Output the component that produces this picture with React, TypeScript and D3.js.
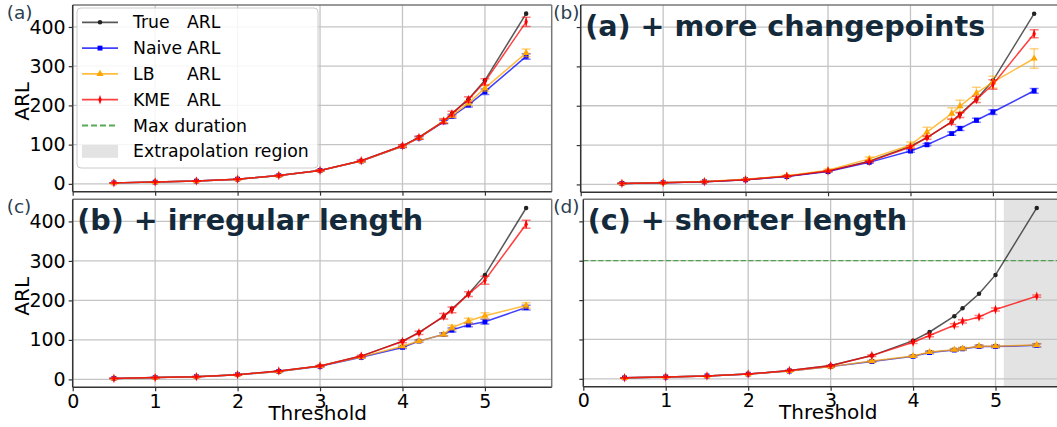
import React, { useEffect, useRef } from "react";
import * as d3 from "d3";

// thresholds shared by every panel
const thresholds = [0.5, 1, 1.5, 2, 2.5, 3, 3.5, 4, 4.2, 4.5, 4.6, 4.8, 5, 5.5];
const trueArl = [2.5, 4.5, 7, 12, 21, 34, 59, 97, 119, 159, 179, 216, 264, 434];

// (a) base
const naiveA = [2.5, 4.5, 7, 12, 21, 34, 58, 96, 117, 158, 172, 201, 235, 325];
const naiveAErr = [0.2, 0.3, 0.4, 0.6, 1, 1.5, 2, 3, 3, 4, 5, 5, 7, 7];
const lbA = [2.5, 4.5, 7, 12, 21, 34, 58, 96, 117, 160, 174, 206, 244, 334];
const lbAErr = [0.2, 0.3, 0.4, 0.6, 1, 1.5, 2, 3, 3, 5, 5, 6, 8, 10];
const kmeA = [2.5, 4.5, 7, 12, 21, 34, 59, 97, 118, 160, 179, 215, 260, 413];
const kmeAErr = [0.2, 0.3, 0.4, 0.6, 1, 1.5, 2, 3, 4, 6, 6, 7, 8, 12];

// (b) more changepoints
const naiveB = [2.5, 4.5, 7, 12, 20, 33, 56, 85, 101, 129, 142, 163, 184, 238];
const naiveBErr = [0.2, 0.3, 0.4, 0.6, 1, 1.5, 2, 3, 3, 4, 5, 5, 6, 6];
const lbB = [2.5, 4.6, 7.5, 13, 22, 36, 65, 100, 133, 180, 199, 232, 260, 320];
const lbBErr = [0.3, 0.4, 0.6, 1, 2, 3, 5, 8, 12, 15, 15, 15, 15, 25];
const kmeB = [2.5, 4.5, 7, 12, 21, 34, 58, 95, 119, 159, 176, 216, 254, 383];
const kmeBErr = [0.2, 0.3, 0.4, 0.6, 1, 1.5, 2, 3, 4, 7, 6, 8, 12, 10];

// (c) irregular length
const naiveC = [2.5, 4.5, 7, 12, 20, 33, 56, 81, 97, 114, 125, 138, 146, 182];
const naiveCErr = [0.2, 0.3, 0.4, 0.6, 1, 1.5, 2, 3, 3, 4, 5, 5, 6, 6];
const lbC = [2.5, 4.5, 7, 12, 20, 34, 57, 84, 97, 114, 131, 148, 161, 187];
const lbCErr = [0.2, 0.3, 0.4, 0.6, 1, 1.5, 2, 3, 3, 4, 6, 7, 8, 7];
const kmeC = [2.5, 4.5, 7, 12, 21, 34, 59, 96, 118, 160, 176, 216, 251, 393];
const kmeCErr = [0.2, 0.3, 0.4, 0.6, 1, 1.5, 2, 3, 4, 7, 7, 6, 10, 10];

// (d) shorter length
const naiveD = [2.5, 4.5, 7, 12, 20, 31, 44, 57, 67, 73, 76, 82, 82, 85];
const naiveDErr = [0.2, 0.3, 0.4, 0.6, 1, 1.5, 2, 2, 3, 3, 3, 3, 3, 4];
const lbD = [2.5, 4.5, 7, 12, 20, 31, 45, 58, 68, 74, 77, 83, 83, 86];
const lbDErr = [0.2, 0.3, 0.4, 0.6, 1, 1.5, 2, 2, 3, 3, 3, 3, 3, 4];
const kmeD = [2.5, 4.5, 7, 12, 21, 33, 59, 93, 110, 136, 146, 157, 176, 210];
const kmeDErr = [0.2, 0.3, 0.4, 0.6, 1, 1.5, 2, 3, 3, 4, 4, 4, 4, 3];

const maxDuration = 300;
const extrapolationStart = 5.1;
const xTicks = [0, 1, 2, 3, 4, 5];
const yTicks = [0, 100, 200, 300, 400];

const FONT = "DejaVu Sans, sans-serif";
const W = 1057;
const H = 427;

const panels = [
  { tag: "(a)", tagX: 6.7, title: "", naive: naiveA, naiveErr: naiveAErr, lb: lbA, lbErr: lbAErr, kme: kmeA, kmeErr: kmeAErr,
    left: 72.7, top: 5, bottom: 191.7, showX: false, showY: true, legend: true },
  { tag: "(b)", tagX: 553.3, title: "(a) + more changepoints", naive: naiveB, naiveErr: naiveBErr, lb: lbB, lbErr: lbBErr, kme: kmeB, kmeErr: kmeBErr,
    left: 580.7, top: 5, bottom: 192.3, showX: false, showY: false },
  { tag: "(c)", tagX: 6.7, title: "(b) + irregular length", naive: naiveC, naiveErr: naiveCErr, lb: lbC, lbErr: lbCErr, kme: kmeC, kmeErr: kmeCErr,
    left: 72.7, top: 199.3, bottom: 387.3, showX: true, showY: true },
  { tag: "(d)", tagX: 553.3, title: "(c) + shorter length", naive: naiveD, naiveErr: naiveDErr, lb: lbD, lbErr: lbDErr, kme: kmeD, kmeErr: kmeDErr,
    left: 583.3, top: 199.3, bottom: 386.7, showX: true, showY: false, limits: true },
];

const symbols = {
  dot: d3.symbol(d3.symbolCircle, 16),
  square: d3.symbol(d3.symbolSquare, 24),
  triangle: d3.symbol(d3.symbolTriangle, 22),
  diamond: d3.symbol(d3.symbolDiamond, 26),
};

export default function App() {
  const ref = useRef(null);

  useEffect(() => {
    const svg = d3.select(ref.current);
    svg.selectAll("*").remove();

    panels.forEach((p, i) => {
      const width = 479;
      const x = d3.scaleLinear().domain([0, 5.81]).range([p.left, p.left + width]);
      const y = d3.scaleLinear().domain([-20, 456]).range([p.bottom, p.top]);
      const g = svg.append("g");

      g.append("clipPath").attr("id", "clip" + i)
        .append("rect")
        .attr("x", p.left).attr("y", p.top)
        .attr("width", width).attr("height", p.bottom - p.top);

      const plot = g.append("g").attr("clip-path", `url(#clip${i})`);

      // extrapolation region (d only)
      if (p.limits) {
        plot.append("rect")
          .attr("x", x(extrapolationStart)).attr("y", p.top)
          .attr("width", x(5.81) - x(extrapolationStart))
          .attr("height", p.bottom - p.top)
          .attr("fill", "#e3e3e3");
      }

      // grid
      plot.selectAll(".gx").data(xTicks).enter().append("line")
        .attr("x1", (d) => x(d)).attr("x2", (d) => x(d))
        .attr("y1", p.top).attr("y2", p.bottom)
        .attr("stroke", "#c4c4c4").attr("stroke-width", 1.3);
      plot.selectAll(".gy").data(yTicks).enter().append("line")
        .attr("x1", p.left).attr("x2", p.left + width)
        .attr("y1", (d) => y(d)).attr("y2", (d) => y(d))
        .attr("stroke", "#c4c4c4").attr("stroke-width", 1.3);

      if (p.limits) {
        plot.append("line")
          .attr("x1", p.left).attr("x2", p.left + width)
          .attr("y1", y(maxDuration)).attr("y2", y(maxDuration))
          .attr("stroke", "#3a9a3a").attr("stroke-opacity", 0.85)
          .attr("stroke-width", 1.3).attr("stroke-dasharray", "5,2.5");
      }

      const line = d3.line().x((d) => x(d[0])).y((d) => y(d[1]));

      const series = [
        { vals: trueArl, err: null, color: "#222222", sym: "dot" },
        { vals: p.naive, err: p.naiveErr, color: "#0000ff", sym: "square" },
        { vals: p.lb, err: p.lbErr, color: "#ffa500", sym: "triangle" },
        { vals: p.kme, err: p.kmeErr, color: "#ff0000", sym: "diamond" },
      ];

      series.forEach((s) => {
        const pts = thresholds.map((t, k) => [t, s.vals[k], s.err ? s.err[k] : 0]);
        plot.append("path")
          .datum(pts)
          .attr("fill", "none")
          .attr("stroke", s.color)
          .attr("stroke-opacity", 0.75)
          .attr("stroke-width", 1.5)
          .attr("d", line);

        if (s.err) {
          const eb = plot.append("g").attr("stroke", s.color).attr("stroke-opacity", 0.5).attr("stroke-width", 1.5);
          eb.selectAll(".v").data(pts).enter().append("line")
            .attr("x1", (d) => x(d[0])).attr("x2", (d) => x(d[0]))
            .attr("y1", (d) => y(d[1] - d[2])).attr("y2", (d) => y(d[1] + d[2]));
          [-1, 1].forEach((sign) => {
            eb.selectAll(".c").data(pts).enter().append("line")
              .attr("x1", (d) => x(d[0]) - 4.5).attr("x2", (d) => x(d[0]) + 4.5)
              .attr("y1", (d) => y(d[1] + sign * d[2])).attr("y2", (d) => y(d[1] + sign * d[2]));
          });
        }

        plot.selectAll(".m").data(pts).enter().append("path")
          .attr("d", symbols[s.sym])
          .attr("transform", (d) => `translate(${x(d[0])},${y(d[1])})` + (s.sym === "diamond" ? " scale(0.6,1)" : ""))
          .attr("fill", s.color);
      });

      // spines
      g.append("line").attr("x1", p.left).attr("x2", p.left + width).attr("y1", p.top).attr("y2", p.top)
        .attr("stroke", "#777").attr("stroke-width", 1.5);
      g.append("line").attr("x1", p.left + width).attr("x2", p.left + width).attr("y1", p.top).attr("y2", p.bottom)
        .attr("stroke", "#777").attr("stroke-width", 1.5);
      g.append("line").attr("x1", p.left).attr("x2", p.left).attr("y1", p.top).attr("y2", p.bottom)
        .attr("stroke", "#333").attr("stroke-width", 1.5);
      g.append("line").attr("x1", p.left).attr("x2", p.left + width).attr("y1", p.bottom).attr("y2", p.bottom)
        .attr("stroke", "#333").attr("stroke-width", 1.5);

      // axes
      const ax = g.append("g")
        .attr("transform", `translate(0,${p.bottom})`)
        .call(d3.axisBottom(x).tickValues(xTicks).tickSizeInner(4).tickSizeOuter(0).tickPadding(3)
          .tickFormat(p.showX ? d3.format("d") : () => ""));
      const ay = g.append("g")
        .attr("transform", `translate(${p.left},0)`)
        .call(d3.axisLeft(y).tickValues(yTicks).tickSizeInner(4).tickSizeOuter(0).tickPadding(3)
          .tickFormat(p.showY ? d3.format("d") : () => ""));
      [ax, ay].forEach((a) => {
        a.select(".domain").remove();
        a.selectAll("line").attr("stroke", "#333").attr("stroke-width", 1.2);
        a.selectAll("text").attr("font-family", FONT).attr("font-size", 19).attr("fill", "#000");
      });

      // panel tag & inset title
      g.append("text")
        .attr("x", p.tagX).attr("y", p.top + 14)
        .attr("font-family", FONT).attr("font-size", 18.5).attr("fill", "#2b3e50")
        .text(p.tag);
      if (p.title) {
        g.append("text")
          .attr("x", p.left + 4.5).attr("y", p.top + 31)
          .attr("font-family", FONT).attr("font-weight", "bold").attr("font-size", 28.6).attr("fill", "#142a3b")
          .text(p.title);
      }

      if (p.showY) {
        const cy = (p.top + p.bottom) / 2 + 3;
        g.append("text")
          .attr("transform", `translate(29,${cy}) rotate(-90)`)
          .attr("text-anchor", "middle")
          .attr("font-family", FONT).attr("font-size", 20)
          .text("ARL");
      }
      if (p.showX) {
        g.append("text")
          .attr("x", p.left + 245).attr("y", p.bottom + 32.5)
          .attr("text-anchor", "middle")
          .attr("font-family", FONT).attr("font-size", 20)
          .text("Threshold");
      }

      if (p.legend) {
        const lg = g.append("g");
        const fs = 17.3;
        lg.append("rect")
          .attr("x", 77).attr("y", 8).attr("width", 241).attr("height", 160).attr("rx", 4)
          .attr("fill", "#fff").attr("fill-opacity", 0.85).attr("stroke", "#ccc");
        const entries = [
          { name: "True", color: "#222222", sym: "dot" },
          { name: "Naive", color: "#0000ff", sym: "square" },
          { name: "LB", color: "#ffa500", sym: "triangle" },
          { name: "KME", color: "#ff0000", sym: "diamond" },
        ];
        entries.forEach((e, k) => {
          const cy = 22.3 + k * 25.8;
          lg.append("line").attr("x1", 82).attr("x2", 118).attr("y1", cy).attr("y2", cy)
            .attr("stroke", e.color).attr("stroke-opacity", 0.75).attr("stroke-width", 1.8);
          lg.append("path").attr("d", symbols[e.sym])
            .attr("transform", `translate(100,${cy})` + (e.sym === "diamond" ? " scale(0.6,1)" : ""))
            .attr("fill", e.color);
          const t = lg.append("text").attr("y", cy + 6).attr("font-family", FONT).attr("font-size", fs);
          t.append("tspan").attr("x", 133).text(e.name);
          t.append("tspan").attr("x", 187).text("ARL");
        });
        const cy5 = 22.3 + 4 * 25.8;
        lg.append("line").attr("x1", 82).attr("x2", 118).attr("y1", cy5).attr("y2", cy5)
          .attr("stroke", "#3a9a3a").attr("stroke-opacity", 0.85).attr("stroke-width", 1.8).attr("stroke-dasharray", "6,3");
        lg.append("text").attr("x", 133).attr("y", cy5 + 6).attr("font-family", FONT).attr("font-size", fs).text("Max duration");
        const cy6 = 22.3 + 5 * 25.8;
        lg.append("rect").attr("x", 82).attr("y", cy6 - 6.5).attr("width", 36).attr("height", 13).attr("fill", "#e3e3e3");
        lg.append("text").attr("x", 133).attr("y", cy6 + 6).attr("font-family", FONT).attr("font-size", fs).text("Extrapolation region");
      }
    });
  }, []);

  return (
    <div style={{ position: "absolute", left: 0, top: 0 }}>
      <svg ref={ref} width={W} height={H} style={{ display: "block", background: "#fff" }}></svg>
    </div>
  );
}
